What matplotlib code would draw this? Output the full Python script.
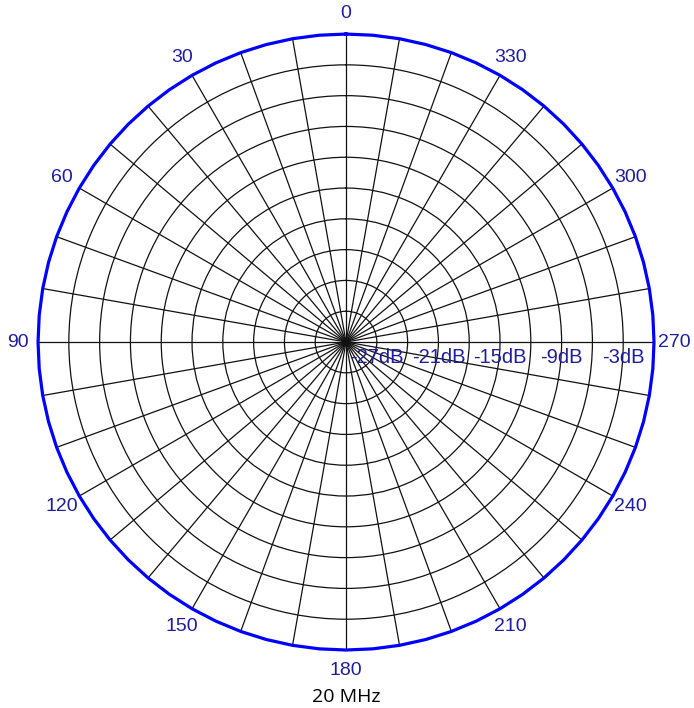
import numpy as np
import matplotlib
matplotlib.use('Agg')
import matplotlib.pyplot as plt

# pattern data (gain in dB vs azimuth in degrees), read every 5 degrees
pattern_deg = list(range(0, 365, 5))
pattern_db = [0.0, 0.0, 0.0, 0.0, 0.0, 0.0, 0.0, 0.0, 0.0, 0.0, 0.0, 0.0,
              0.0, 0.0, 0.0, 0.0, 0.0, 0.0, 0.0, 0.0, 0.0, 0.0, 0.0, 0.0,
              0.0, 0.0, 0.0, 0.0, 0.0, 0.0, 0.0, 0.0, 0.0, 0.0, 0.0, 0.0,
              0.0, 0.0, 0.0, 0.0, 0.0, 0.0, 0.0, 0.0, 0.0, 0.0, 0.0, 0.0,
              0.0, 0.0, 0.0, 0.0, 0.0, 0.0, 0.0, 0.0, 0.0, 0.0, 0.0, 0.0,
              0.0, 0.0, 0.0, 0.0, 0.0, 0.0, 0.0, 0.0, 0.0, 0.0, 0.0, 0.0,
              0.0]

angle_ticks = list(range(0, 360, 10))
angle_labels = [str(a) if a % 30 == 0 else '' for a in angle_ticks]
ring_db = [-27, -24, -21, -18, -15, -12, -9, -6, -3, 0]
ring_labels = [-27, -21, -15, -9, -3]
title = '20 MHz'

label_col = '#1e1e9c'

fig = plt.figure(figsize=(6.94, 7.08), dpi=100)
ax = fig.add_axes([0.0548, 0.0819, 0.8876, 0.870], projection='polar')
ax.set_theta_zero_location('N')
ax.set_theta_direction(1)
ax.set_ylim(-30, 0)

ax.set_xticks(np.radians(angle_ticks))
ax.set_xticklabels(angle_labels, fontsize=14, color=label_col,
                   family='Liberation Sans')
ax.tick_params(axis='x', pad=4)
ax.set_yticks(ring_db)
ax.set_yticklabels([])
ax.grid(True, color='#111111', lw=0.9)
ax.spines['polar'].set_visible(False)

ax.plot(np.radians(pattern_deg), pattern_db, color='#0000ff', lw=2.3,
        clip_on=False, zorder=5)

for r in ring_labels:
    ax.annotate('%ddB' % r, xy=(np.radians(270), r), xytext=(0, -11),
                textcoords='offset points', ha='center', va='center',
                fontsize=14.5, color=label_col, family='Liberation Sans')

fig.text(0.4986, 0.015, title, ha='center', va='center', fontsize=14,
         family='Open Sans', color='black')

plt.savefig('out.png', dpi=100)
